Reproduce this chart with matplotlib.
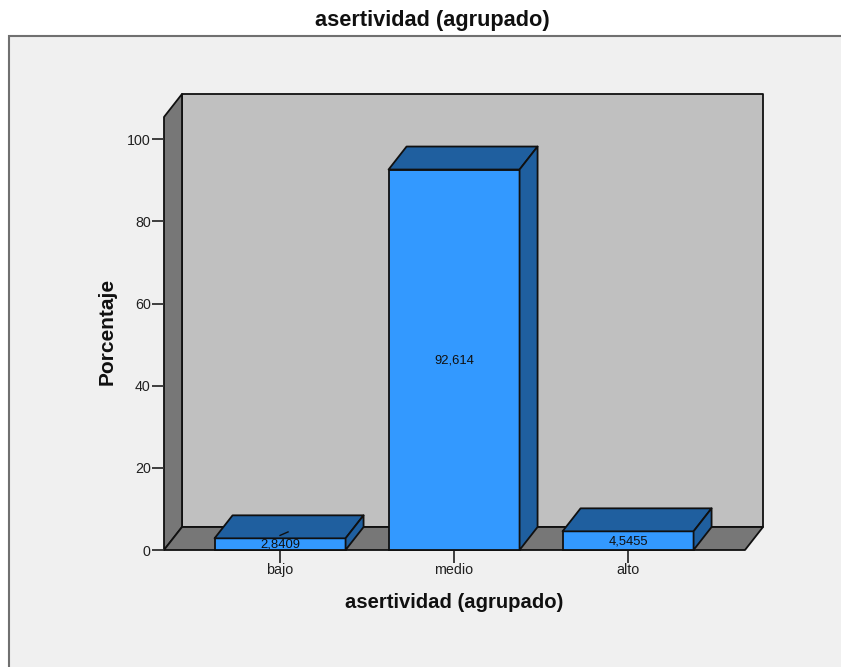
import matplotlib
matplotlib.use("Agg")
import matplotlib.pyplot as plt
from matplotlib.patches import Polygon, Rectangle
from matplotlib.transforms import IdentityTransform

plt.rcParams['font.family'] = ['Liberation Sans', 'DejaVu Sans']

categories = ["bajo", "medio", "alto"]
percent = [2.8409, 92.614, 4.5455]
value_labels = ["2,8409", "92,614", "4,5455"]
y_ticks = [0, 20, 40, 60, 80, 100]

W, H = 841, 667
PANEL = "#F0F0F0"
WALL = "#777777"
BACK = "#C0C0C0"
FRONT = "#3399FF"
DARK = "#1F5F9F"

fig = plt.figure(figsize=(W / 100, H / 100), dpi=100, facecolor="white")

# grey panel behind the chart, in pixels
fig.patches.append(Rectangle((8.5, -5), W, H - 36 + 5, transform=IdentityTransform(),
                             facecolor=PANEL, edgecolor="#707070", linewidth=1.5,
                             zorder=-1))

ax = fig.add_axes([164 / W, (H - 550) / H, 581 / W, 433 / H])
ax.patch.set_visible(False)
ax.set_xlim(-0.667, 2.672)
ax.set_ylim(0, 105.4)

# depth of the fake 3D box, in data units
dx = 18 / 174
dy = 23 / 4.11
x0, x1 = ax.get_xlim()
y1 = ax.get_ylim()[1]


def face(points, color, z):
    ax.add_patch(Polygon(points, closed=True, facecolor=color, edgecolor="#101010",
                         linewidth=1.3, clip_on=False, zorder=z, joinstyle="round"))


# Walls and floor
face([(x0 + dx, dy), (x1 + dx, dy), (x1 + dx, y1 + dy), (x0 + dx, y1 + dy)], BACK, 1)
face([(x0, 0), (x0 + dx, dy), (x0 + dx, y1 + dy), (x0, y1)], WALL, 1)
face([(x0, 0), (x1, 0), (x1 + dx, dy), (x0 + dx, dy)], WALL, 1)

# Bars
bar_w = 131 / 174
xs = range(len(categories))
ax.bar(xs, percent, width=bar_w, color=FRONT, edgecolor="#101010", linewidth=1.3,
       zorder=3, clip_on=False)
for x, v, lab in zip(xs, percent, value_labels):
    l, r = x - bar_w / 2, x + bar_w / 2
    face([(l, v), (r, v), (r + dx, v + dy), (l + dx, v + dy)], DARK, 3)
    face([(r, 0), (r + dx, dy), (r + dx, v + dy), (r, v)], DARK, 3)
    ax.text(x, v / 2 - 0.2, lab, ha="center", va="center", fontsize=9.4, color="#101010",
            zorder=5)

# small leader line over the bajo label
ax.plot([0, 8 / 174], [3.55, 4.4], color="#101010", linewidth=1, zorder=5)

ax.set_xticks(list(xs))
ax.set_xticklabels(categories)
ax.set_yticks(y_ticks)
ax.tick_params(axis="both", length=9, width=1.3, color="#303030", labelsize=10.3,
               labelcolor="#202020")
ax.tick_params(axis="x", pad=0.5)
ax.tick_params(axis="y", pad=0.5)
for s in ax.spines.values():
    s.set_visible(False)

fig.text(432 / W, 1 - 20.5 / H, "asertividad (agrupado)", ha="center", va="center",
         fontsize=15.7, fontweight="bold", color="#101010")
fig.text(454 / W, 1 - 602 / H, "asertividad (agrupado)", ha="center", va="center",
         fontsize=14.6, fontweight="bold", color="#101010")
fig.text(107 / W, 1 - 331 / H, "Porcentaje", rotation=90, ha="center", va="center",
         fontsize=15, fontweight="bold", color="#101010")

fig.savefig("out.png", dpi=100, facecolor=fig.get_facecolor())
